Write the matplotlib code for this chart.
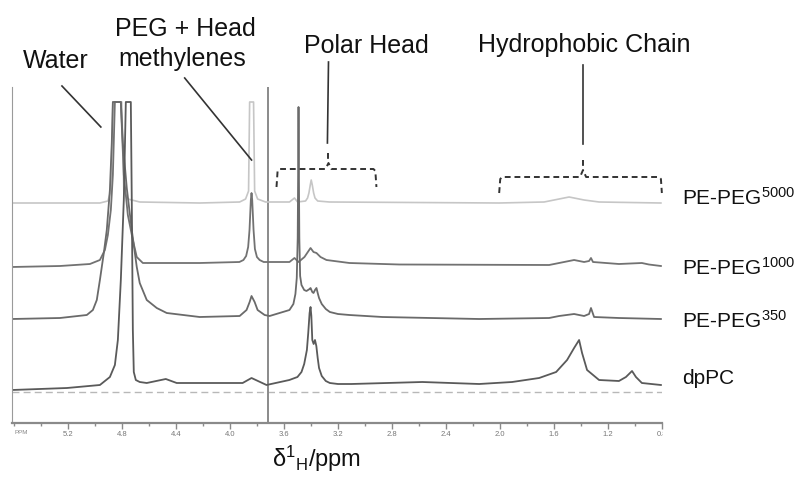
import numpy as np
import matplotlib
matplotlib.use('Agg')
import matplotlib.pyplot as plt
from matplotlib.ticker import MultipleLocator, FixedLocator
from matplotlib.transforms import Bbox

plt.rcParams['font.family'] = ['Liberation Sans', 'DejaVu Sans']
plt.rcParams['mathtext.fontset'] = 'custom'
plt.rcParams['mathtext.rm'] = 'Liberation Sans'
plt.rcParams['mathtext.it'] = 'Liberation Sans:italic'
plt.rcParams['mathtext.default'] = 'regular'

# 1H NMR traces, chemical shift (ppm) vs intensity above each trace's baseline
peg5000_ppm = [5.614, 4.963, 4.904, 4.882, 4.867, 4.801, 4.786, 4.756, 4.668, 4.224,
               3.928, 3.884, 3.862, 3.854, 3.825, 3.817, 3.795, 3.736, 3.559, 3.522,
               3.499, 3.44, 3.425, 3.415, 3.405, 3.398, 3.39, 3.38, 3.37, 3.35,
               3.263, 2.006, 1.673, 1.562, 1.488, 1.377, 1.266, 0.808]
peg5000_int = [0, 0, 2, 12, 101, 101, 12, 4, 1, 0,
               1, 4, 12, 101, 101, 12, 4, 1, 1, 5,
               1, 2, 5, 10, 18, 23, 18, 10, 5, 2,
               1, 0, 1, 4, 6, 3, 1, 0]

peg1000_ppm = [5.614, 5.259, 5.037, 4.963, 4.926, 4.904, 4.882, 4.867, 4.852, 4.808,
               4.786, 4.756, 4.719, 4.690, 4.645, 4.224, 3.93, 3.90, 3.88, 3.865,
               3.855, 3.845, 3.840, 3.835, 3.825, 3.815, 3.80, 3.78, 3.75, 3.559,
               3.522, 3.492, 3.448, 3.403, 3.381, 3.359, 3.329, 3.285, 3.115, 2.745,
               1.636, 1.562, 1.451, 1.377, 1.340, 1.326, 1.311, 1.119, 0.949, 0.897,
               0.808]
peg1000_int = [-2, -1, 1, 5, 15, 30, 55, 90, 163, 163,
               90, 50, 25, 8, 2, 2, 3, 5, 9, 18,
               35, 65, 72, 65, 35, 16, 8, 5, 3, 3,
               7, 3, 8, 17, 13, 12, 8, 5, 2, 0.5,
               0, 2, 5, 3, 4, 7, 3, 1, 2, 0.5,
               -1]

peg350_ppm = [5.614, 5.259, 5.060, 5.015, 4.986, 4.963, 4.934, 4.912, 4.889, 4.875,
              4.867, 4.808, 4.793, 4.764, 4.727, 4.690, 4.668, 4.616, 4.542, 4.468,
              4.224, 3.928, 3.877, 3.854, 3.840, 3.817, 3.795, 3.743, 3.706, 3.559,
              3.53, 3.515, 3.505, 3.498, 3.494, 3.492, 3.490, 3.486, 3.48, 3.47,
              3.45, 3.433, 3.41, 3.403, 3.39, 3.381, 3.37, 3.359, 3.35, 3.34,
              3.32, 3.29, 3.26, 3.2, 3.115, 2.871, 2.154, 1.636, 1.562, 1.451,
              1.377, 1.340, 1.326, 1.303, 1.119, 0.808]
peg350_int = [-1, 0, 3, 8, 18, 38, 65, 88, 128, 175,
              216, 216, 175, 130, 88, 51, 35, 18, 10, 5,
              1, 2, 8, 16, 22, 16, 8, 3, 2, 8,
              14, 24, 40, 80, 160, 211, 160, 80, 42, 33,
              28, 27, 29, 30, 26, 25, 28, 30, 25, 20,
              14, 9, 6, 4, 3, 1, -1, 0, 2, 4,
              2, 4, 10, 1, 0, -1]

dppc_ppm = [5.614, 5.207, 4.963, 4.889, 4.852, 4.830, 4.808, 4.786, 4.771, 4.734,
            4.727, 4.719, 4.712, 4.697, 4.668, 4.616, 4.475, 4.394, 3.906, 3.840,
            3.729, 3.56, 3.50, 3.47, 3.45, 3.43, 3.42, 3.41, 3.403, 3.397,
            3.39, 3.38, 3.37, 3.36, 3.35, 3.34, 3.32, 3.29, 3.26, 3.2,
            3.1, 2.575, 2.154, 1.910, 1.710, 1.584, 1.503, 1.451, 1.414, 1.392,
            1.355, 1.266, 1.119, 1.067, 1.022, 0.993, 0.949, 0.808]
dppc_int = [-2, 0, 3, 11, 23, 48, 108, 188, 286, 286,
            188, 58, 16, 8, 6, 5, 9, 5, 5, 10,
            3, 8, 11, 16, 24, 38, 55, 75, 81, 72,
            48, 44, 48, 42, 30, 20, 12, 7, 5, 4,
            4, 6, 4, 6, 10, 16, 28, 40, 48, 35,
            18, 8, 7, 11, 17, 11, 5, 3]

# vertical offsets of the stacked traces
offsets = {'5000': 220, '1000': 158, '350': 105, 'dppc': 35}
ref_level = 31
tick_major = [5.2, 4.8, 4.4, 4.0, 3.6, 3.2, 2.8, 2.4, 2.0, 1.6, 1.2, 0.8]

W, H = 804, 483
fig = plt.figure(figsize=(W / 100, H / 100), dpi=100)
ax = fig.add_axes([12 / W, (H - 423) / H, 650 / W, 336 / H])
ax.set_xlim(5.614, 0.80)
ax.set_ylim(0, 336)

ax.axhline(ref_level, color='#b8b8b8', lw=1.0, ls=(0, (5, 3)), zorder=1)
ax.axvline(3.721, color='#8a8a8a', lw=1.4, zorder=1)

ax.plot(peg5000_ppm, np.array(peg5000_int) + offsets['5000'], color='#c6c6c6', lw=1.2)
ax.plot(peg1000_ppm, np.array(peg1000_int) + offsets['1000'], color='#727272', lw=1.3)
ax.plot(peg350_ppm, np.array(peg350_int) + offsets['350'], color='#6a6a6a', lw=1.3)
ax.plot(dppc_ppm, np.array(dppc_int) + offsets['dppc'], color='#5a5a5a', lw=1.3)

for s in ['top', 'right']:
    ax.spines[s].set_visible(False)
ax.spines['left'].set_color('#9a9a9a')
ax.spines['bottom'].set_color('#8a8a8a')
ax.spines['bottom'].set_linewidth(1.6)
ax.set_yticks([])
ax.xaxis.set_major_locator(FixedLocator(tick_major))
ax.xaxis.set_minor_locator(MultipleLocator(0.2))
ax.set_xticklabels(['%.1f' % t for t in tick_major])
ax.tick_params(axis='x', which='major', length=4, width=1, color='#8a8a8a',
               labelsize=5.5, labelcolor='#777777', pad=2)
ax.tick_params(axis='x', which='minor', length=2.5, width=1, color='#8a8a8a')
ax.text(5.592, -10, 'PPM', fontsize=4.5, color='#888888', va='center', ha='left')

# clip the last tick label at the end of the axis
fig.canvas.draw()
clip = Bbox.from_extents(0, 0, 663, H)
for lab in ax.get_xticklabels():
    lab.set_clip_box(clip)
    lab.set_clip_on(True)

# peak group annotations
txt = dict(fontsize=18, color='#111111', va='baseline', ha='left')
ax.text(5.533, 355, 'Water', **txt)
ax.text(4.852, 387, 'PEG + Head', **txt)
ax.text(4.830, 357, 'methylenes', **txt)
ax.text(3.448, 370, 'Polar Head', **txt)
ax.text(2.161, 371, 'Hydrophobic Chain', **txt)

ln = dict(color='#333333', lw=1.2, clip_on=False)
ax.plot([5.244, 4.956], [337, 296], **ln)
ax.plot([4.335, 3.840], [345, 263], **ln)
ax.plot([3.270, 3.278], [361, 280], **ln)
ax.plot([1.385, 1.385], [358, 279], **ln)

br = dict(color='#333333', lw=1.4, ls=(0, (3, 2)), clip_on=False)
ax.plot([3.270, 3.270], [270, 261], **br)
ax.plot([3.655, 3.647, 3.633, 3.292, 3.270, 3.248, 2.937, 2.923, 2.915],
        [236, 252, 254, 254, 260, 254, 254, 252, 236], **br)
ax.plot([1.385, 1.385], [263, 255], **br)
ax.plot([2.006, 1.998, 1.984, 1.407, 1.385, 1.362, 0.823, 0.808, 0.801],
        [230, 244, 246, 246, 253, 246, 246, 244, 230], **br)

# trace names on the right
lab = dict(fontsize=15, color='#111111', va='baseline', ha='left', clip_on=False)
ax.text(0.653, 218, 'PE-PEG$^{5000}$', **lab)
ax.text(0.653, 148, 'PE-PEG$^{1000}$', **lab)
ax.text(0.653, 95, 'PE-PEG$^{350}$', **lab)
ax.text(0.653, 39, 'dpPC', **lab)

ax.text(3.692, -44, r'$\delta^{1}{}_{H}$/ppm', fontsize=17, color='#111111',
        va='baseline', ha='left')

fig.savefig('out.png', dpi=100)
